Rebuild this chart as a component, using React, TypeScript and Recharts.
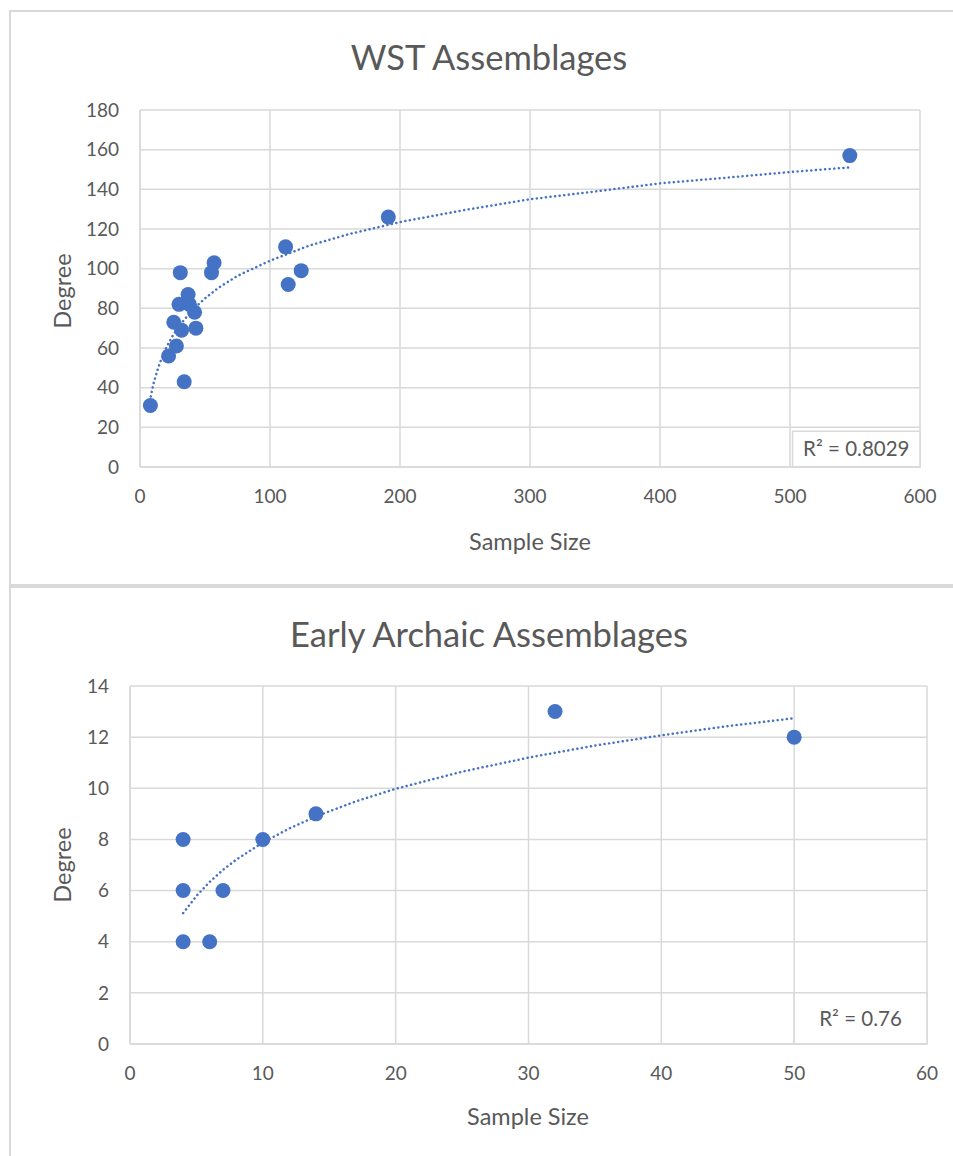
import React from 'react';
import { ScatterChart, Scatter, XAxis, YAxis, CartesianGrid, ReferenceArea, Label } from 'recharts';

const wstSampleSize = [8, 22, 28, 34, 31, 26, 32, 43, 30, 37, 38, 42, 55, 57, 112, 124, 114, 191, 546];
const wstDegree = [31, 56, 61, 43, 98, 73, 69, 70, 82, 87, 82, 78, 98, 103, 111, 99, 92, 126, 157];
const wstTrendX = [7, 8, 10, 12, 15, 20, 25, 30, 40, 50, 60, 75, 100, 130, 160, 200, 250, 300, 350, 400, 450, 500, 545];
const wstTrendY = [31, 34.6, 41, 45.8, 52, 60, 66, 71, 79, 85, 90.2, 96.4, 104, 111.6, 117.3, 123.5, 129.6, 135, 138.9, 143, 145.8, 148.7, 151];
const wstXTicks = [0, 100, 200, 300, 400, 500, 600];
const wstYTicks = [0, 20, 40, 60, 80, 100, 120, 140, 160, 180];

const eaSampleSize = [4, 4, 4, 6, 7, 10, 14, 32, 50];
const eaDegree = [8, 6, 4, 4, 6, 8, 9, 13, 12];
const eaTrendX = [4, 5, 6, 7, 8, 10, 12, 14, 17, 20, 25, 30, 35, 40, 45, 50];
const eaTrendY = [5.12, 5.79, 6.34, 6.81, 7.21, 7.88, 8.43, 8.9, 9.49, 9.98, 10.65, 11.2, 11.67, 12.07, 12.43, 12.74];
const eaXTicks = [0, 10, 20, 30, 40, 50, 60];
const eaYTicks = [0, 2, 4, 6, 8, 10, 12, 14];

const BLUE = '#4472C4';
const GRID = '#d9d9d9';
const TEXT = '#595959';
const FONT = 'Lato, "Open Sans", sans-serif';

const zip = (xs: number[], ys: number[]) => xs.map((x, i) => ({ x, y: ys[i] }));

const Dot = (props: any) => {
  if (props.cx == null || props.cy == null) return null;
  return <circle cx={props.cx} cy={props.cy} r={7.5} fill={BLUE} />;
};
const NoDot = () => null;

type PanelProps = {
  top: number;
  height: number;
  title: string;
  titleY: number;
  points: { x: number; y: number }[];
  trend: { x: number; y: number }[];
  xTicks: number[];
  yTicks: number[];
  margin: { top: number; right: number; bottom: number; left: number };
  r2: string;
  r2Box: { x1: number; x2: number; y1: number; y2: number };
  degreeY: number;
  sampleY: number;
  sampleX: number;
};

const Panel = (p: PanelProps) => {
  const xMax = p.xTicks[p.xTicks.length - 1];
  const yMax = p.yTicks[p.yTicks.length - 1];
  return (
    <div style={{ position: 'absolute', left: 0, top: p.top, width: 953, height: p.height }}>
      <div
        style={{
          position: 'absolute',
          left: 0,
          top: p.titleY - 23,
          width: 978,
          textAlign: 'center',
          fontFamily: FONT,
          fontSize: 34.5,
          color: TEXT,
          lineHeight: '46px',
        }}
      >
        {p.title}
      </div>
      <div
        style={{
          position: 'absolute',
          left: 62 - 60,
          top: p.degreeY - 14,
          width: 120,
          height: 28,
          lineHeight: '28px',
          textAlign: 'center',
          fontFamily: FONT,
          fontSize: 23.5,
          color: TEXT,
          transform: 'rotate(-90deg)',
          transformOrigin: '60px 14px',
        }}
      >
        Degree
      </div>
      <div
        style={{
          position: 'absolute',
          left: p.sampleX - 100,
          top: p.sampleY - 15,
          width: 200,
          textAlign: 'center',
          fontFamily: FONT,
          fontSize: 23.5,
          color: TEXT,
          lineHeight: '30px',
        }}
      >
        Sample Size
      </div>
      <div style={{ position: 'absolute', left: 0, top: 0 }}>
        <ScatterChart width={953} height={p.height} margin={p.margin}>
          <CartesianGrid stroke={GRID} strokeWidth={1.5} />
          <XAxis
            type="number"
            dataKey="x"
            domain={[0, xMax]}
            ticks={p.xTicks}
            interval={0}
            height={30}
            tickLine={false}
            axisLine={{ stroke: GRID, strokeWidth: 1.5 }}
            tickMargin={17}
            tick={{ fill: TEXT, fontSize: 19, fontFamily: FONT }}
            allowDataOverflow
          />
          <YAxis
            type="number"
            dataKey="y"
            domain={[0, yMax]}
            ticks={p.yTicks}
            interval={0}
            width={60}
            tickLine={false}
            axisLine={{ stroke: GRID, strokeWidth: 1.5 }}
            tickMargin={15}
            tick={{ fill: TEXT, fontSize: 19, fontFamily: FONT }}
            allowDataOverflow
          />
          <ReferenceArea
            x1={p.r2Box.x1}
            x2={p.r2Box.x2}
            y1={p.r2Box.y1}
            y2={p.r2Box.y2}
            fill="#ffffff"
            fillOpacity={1}
            stroke={GRID}
            strokeWidth={1.5}
          >
            <Label value={p.r2} position="center" fill={TEXT} fontSize={20.5} fontFamily={FONT} />
          </ReferenceArea>
          <Scatter
            data={p.trend}
            line={{ stroke: BLUE, strokeWidth: 2.5, strokeDasharray: '0.1 4.5', strokeLinecap: 'round' }}
            lineType="joint"
            shape={NoDot}
            isAnimationActive={false}
          />
          <Scatter data={p.points} shape={Dot} isAnimationActive={false} />
        </ScatterChart>
      </div>
    </div>
  );
};

export default function App() {
  return (
    <div
      style={{
        position: 'absolute',
        left: 0,
        top: 0,
        width: 953,
        height: 1156,
        background: '#ffffff',
        overflow: 'hidden',
      }}
    >
      <div
        style={{
          position: 'absolute',
          left: 9,
          top: 10,
          width: 1000,
          height: 576,
          border: `2px solid ${GRID}`,
          boxSizing: 'border-box',
        }}
      />
      <div
        style={{
          position: 'absolute',
          left: 9,
          top: 586,
          width: 1000,
          height: 600,
          border: `2px solid ${GRID}`,
          boxSizing: 'border-box',
        }}
      />
      <Panel
        top={0}
        height={587}
        title="WST Assemblages"
        titleY={57}
        points={zip(wstSampleSize, wstDegree)}
        trend={zip(wstTrendX, wstTrendY)}
        xTicks={wstXTicks}
        yTicks={wstYTicks}
        margin={{ top: 110, right: 33, bottom: 90, left: 80 }}
        r2="R² = 0.8029"
        r2Box={{ x1: 502, x2: 600, y1: 0, y2: 18 }}
        degreeY={291}
        sampleY={541}
        sampleX={530}
      />
      <Panel
        top={587}
        height={569}
        title="Early Archaic Assemblages"
        titleY={47}
        points={zip(eaSampleSize, eaDegree)}
        trend={zip(eaTrendX, eaTrendY)}
        xTicks={eaXTicks}
        yTicks={eaYTicks}
        margin={{ top: 99, right: 26, bottom: 82, left: 70 }}
        r2="R² = 0.76"
        r2Box={{ x1: 50, x2: 60, y1: 0, y2: 2 }}
        degreeY={278}
        sampleY={529}
        sampleX={528}
      />
    </div>
  );
}
